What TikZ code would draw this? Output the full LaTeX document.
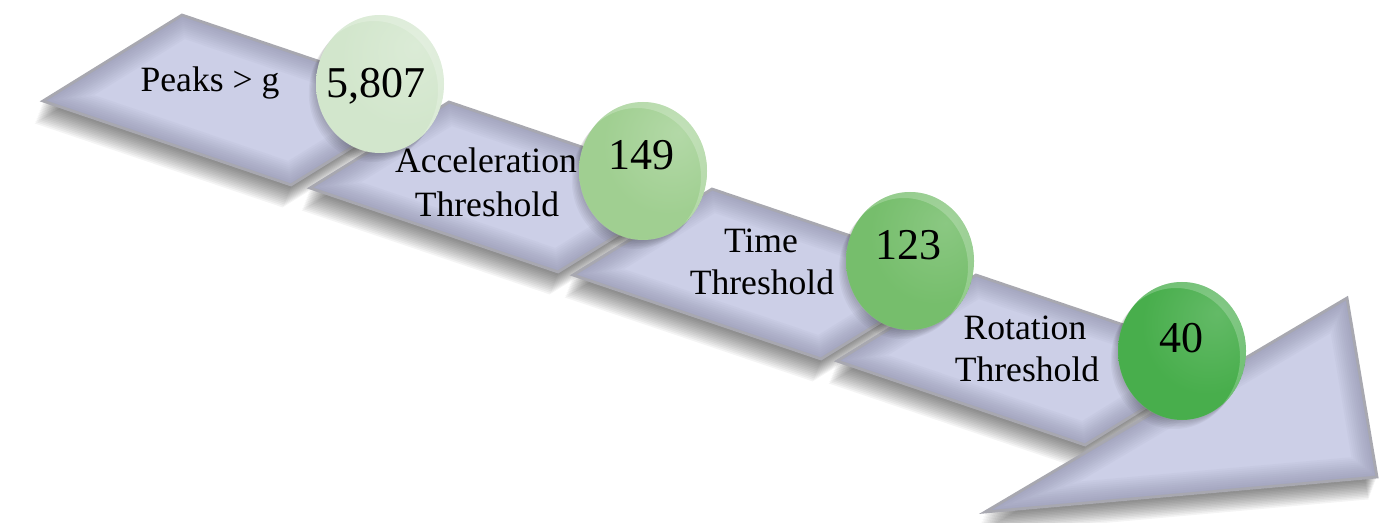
\documentclass[tikz,border=0pt]{standalone}
\usepackage{fontspec}
\setmainfont{Liberation Serif}

% slab colours
\definecolor{slabfill}{RGB}{204,207,231}
\definecolor{slabedge}{RGB}{110,112,138}
\definecolor{slabrim}{RGB}{168,168,176}

% orb colours
\definecolor{orbAc}{RGB}{210,230,204}
\definecolor{orbAd}{RGB}{172,200,165}
\definecolor{orbBc}{RGB}{160,207,145}
\definecolor{orbBd}{RGB}{118,172,106}
\definecolor{orbCc}{RGB}{118,190,108}
\definecolor{orbCd}{RGB}{80,150,74}
\definecolor{orbDc}{RGB}{72,174,76}
\definecolor{orbDd}{RGB}{40,130,48}

\pgfdeclareradialshading{orbA}{\pgfpoint{14bp}{14bp}}{color(0bp)=(orbAc!80!white); color(25bp)=(orbAc); color(44bp)=(orbAc); color(60bp)=(orbAd); color(75bp)=(orbAd)}
\pgfdeclareradialshading{orbB}{\pgfpoint{14bp}{14bp}}{color(0bp)=(orbBc!80!white); color(25bp)=(orbBc); color(44bp)=(orbBc); color(60bp)=(orbBd); color(75bp)=(orbBd)}
\pgfdeclareradialshading{orbC}{\pgfpoint{14bp}{14bp}}{color(0bp)=(orbCc!85!white); color(25bp)=(orbCc); color(44bp)=(orbCc); color(60bp)=(orbCd); color(75bp)=(orbCd)}
\pgfdeclareradialshading{orbD}{\pgfpoint{14bp}{14bp}}{color(0bp)=(orbDc!85!white); color(25bp)=(orbDc); color(44bp)=(orbDc); color(60bp)=(orbDd); color(75bp)=(orbDd)}

% soft drop shadow built from stacked translucent copies
\newcommand\softshadow[1]{%
  \foreach \k in {1,...,14}{%
    \fill[black, opacity=0.045, shift={(-0.6*\k,1.6*\k)}] #1;}}

% bevelled slab: flat fill, darker inner rim fading inwards, light outline
\newcommand\bevelled[1]{%
  \fill[slabfill] #1;
  \begin{scope}
    \clip #1;
    \foreach \w in {22,20,...,2}{%
      \draw[slabedge, opacity=0.045, line width=\w pt, line join=miter] #1;}
  \end{scope}
  \draw[slabrim, line width=1.4pt, line join=miter] #1;}

% shaded orb with a number
\newcommand\orb[7]{%
  \coordinate (#1) at (#2,#3);
  \foreach \k in {1,...,6}{%
    \fill[black, opacity=0.035] ([shift={(-1.2*\k,1.5*\k)}]#1) ellipse [x radius=64, y radius=69];}
  \shade[shading=#4] (#1) ellipse [x radius=64, y radius=69];
  \begin{scope}
    \clip (#1) ellipse [x radius=64, y radius=69];
    \fill[white, opacity=0.22, even odd rule] (#1) ellipse [x radius=64, y radius=69]
      ([shift={(-6,6)}]#1) ellipse [x radius=64, y radius=69];
  \end{scope}
  \node[numtext, anchor=base] (#1-num) at (#6,#7) {#5};}

\begin{document}
\begin{tikzpicture}[x=0.5pt, y=-0.5pt,
  labtext/.style={inner sep=0pt, font=\fontsize{17.8}{22}\selectfont},
  numtext/.style={inner sep=0pt, font=\fontsize{22}{26}\selectfont}]
\useasboundingbox (0,0) rectangle (1381,523);

% shadows of the arrow body and head
\foreach \bx/\by in {43/101, 310/188, 573/275, 837/361}{%
  \softshadow{(\bx,\by) -- ++(248,84) -- ++(139,-86) -- ++(-248,-84) -- cycle}}
\softshadow{(985,512) -- (1347,298) -- (1377,477) -- cycle}

% arrow body slabs and head
\foreach \bx/\by in {43/101, 310/188, 573/275, 837/361}{%
  \bevelled{(\bx,\by) -- ++(248,84) -- ++(139,-86) -- ++(-248,-84) -- cycle}}
\bevelled{(985,512) -- (1347,298) -- (1377,477) -- cycle}

% stage labels
\node[labtext, anchor=base] (peaks) at (210,92) {Peaks > g};
\node[labtext, anchor=base] (acc1) at (486,173) {Acceleration};
\node[labtext, anchor=base] (acc2) at (487,217) {Threshold};
\node[labtext, anchor=base] (time1) at (761,253) {Time};
\node[labtext, anchor=base] (time2) at (762,295) {Threshold};
\node[labtext, anchor=base] (rot1) at (1025,340) {Rotation};
\node[labtext, anchor=base] (rot2) at (1027,382) {Threshold};

% counts
\orb{orbone}{380}{84}{orbA}{5,807}{376}{98}
\orb{orbtwo}{643}{171}{orbB}{149}{641}{170}
\orb{orbthree}{910}{261}{orbC}{123}{908}{260}
\orb{orbfour}{1182}{351}{orbD}{40}{1181}{353}
\end{tikzpicture}
\end{document}
